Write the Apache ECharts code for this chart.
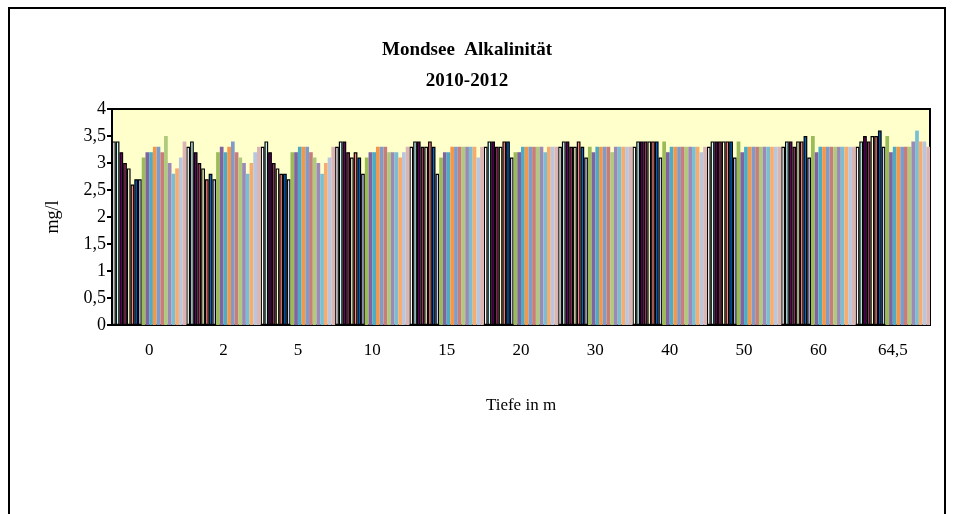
<!DOCTYPE html>
<html>
<head>
<meta charset="utf-8">
<title>Mondsee Alkalinität</title>
<script src="https://cdn.jsdelivr.net/npm/echarts@6/dist/echarts.min.js"></script>
<style>
    html, body { margin: 0; padding: 0; background: #fff; }
    #chart { width: 955px; height: 514px; }
</style>
</head>
<body>
<div id="chart"></div>
<script>
// Tiefenstufen (x-Achse)
const depths = ['0', '2', '5', '10', '15', '20', '30', '40', '50', '60', '64,5'];
const yTicks = [0, 0.5, 1, 1.5, 2, 2.5, 3, 3.5, 4];

// Alkalinität je Tiefe, 20 Messtermine (mg/l)
const t0   = [3.4, 3.4, 3.2, 3.0, 2.9, 2.6, 2.7, 2.7, 3.1, 3.2, 3.2, 3.3, 3.3, 3.2, 3.5, 3.0, 2.8, 2.9, 3.1, 3.4];
const t2   = [3.3, 3.4, 3.2, 3.0, 2.9, 2.7, 2.8, 2.7, 3.2, 3.3, 3.2, 3.3, 3.4, 3.2, 3.1, 3.0, 2.8, 3.0, 3.2, 3.3];
const t5   = [3.3, 3.4, 3.2, 3.0, 2.9, 2.8, 2.8, 2.7, 3.2, 3.2, 3.3, 3.3, 3.3, 3.2, 3.1, 3.0, 2.8, 3.0, 3.1, 3.3];
const t10  = [3.3, 3.4, 3.4, 3.2, 3.1, 3.2, 3.1, 2.8, 3.1, 3.2, 3.2, 3.3, 3.3, 3.3, 3.2, 3.2, 3.2, 3.1, 3.2, 3.3];
const t15  = [3.3, 3.4, 3.4, 3.3, 3.3, 3.4, 3.3, 2.8, 3.1, 3.2, 3.2, 3.3, 3.3, 3.3, 3.3, 3.3, 3.3, 3.3, 3.1, 3.3];
const t20  = [3.3, 3.4, 3.4, 3.3, 3.3, 3.4, 3.4, 3.1, 3.2, 3.2, 3.3, 3.3, 3.3, 3.3, 3.3, 3.3, 3.2, 3.3, 3.3, 3.3];
const t30  = [3.3, 3.4, 3.4, 3.3, 3.3, 3.4, 3.3, 3.1, 3.3, 3.2, 3.3, 3.3, 3.3, 3.3, 3.2, 3.3, 3.3, 3.3, 3.3, 3.3];
const t40  = [3.3, 3.4, 3.4, 3.4, 3.4, 3.4, 3.4, 3.1, 3.4, 3.2, 3.3, 3.3, 3.3, 3.3, 3.3, 3.3, 3.3, 3.3, 3.2, 3.3];
const t50  = [3.3, 3.4, 3.4, 3.4, 3.4, 3.4, 3.4, 3.1, 3.4, 3.2, 3.3, 3.3, 3.3, 3.3, 3.3, 3.3, 3.3, 3.3, 3.3, 3.3];
const t60  = [3.3, 3.4, 3.4, 3.3, 3.4, 3.4, 3.5, 3.1, 3.5, 3.2, 3.3, 3.3, 3.3, 3.3, 3.3, 3.3, 3.3, 3.3, 3.3, 3.3];
const t645 = [3.3, 3.4, 3.5, 3.4, 3.5, 3.5, 3.6, 3.3, 3.5, 3.2, 3.3, 3.3, 3.3, 3.3, 3.3, 3.4, 3.6, 3.4, 3.4, 3.3];

const rows = [t0, t2, t5, t10, t15, t20, t30, t40, t50, t60, t645];

// Farben der Messtermine (die ersten 8 mit schwarzem Rand)
const colors = [
    '#FFFFFF', '#CCFFFF', '#660066', '#993366', '#FFFFCC', '#FF8080', '#0066CC', '#CCCCFF',
    '#9BBB59', '#8064A2', '#4BACC6', '#F79646', '#7E9CCB', '#C97D7B',
    '#AFC97D', '#9C89B8', '#78BFD3', '#F9AB6D', '#B9C6E0', '#DBB5B4'
];
const outlined = 8;

const chart = echarts.init(document.getElementById('chart'));

const series = colors.map(function(c, i) {
    return {
        name: 'Termin ' + (i + 1),
        type: 'bar',
        barGap: '0%',
        barCategoryGap: '0%',
        itemStyle: {
            color: c,
            borderColor: i < outlined ? '#000' : c,
            borderWidth: i < outlined ? 1.2 : 0
        },
        data: rows.map(function(r) { return r[i]; })
    };
});

const serif = 'Liberation Serif, Times New Roman, serif';

const option = {
    animation: false,
    title: {
        text: 'Mondsee  Alkalinität\n2010-2012',
        left: 462,
        top: 30,
        textAlign: 'center',
        textStyle: {
            fontFamily: serif,
            fontWeight: 'bold',
            fontSize: 19,
            lineHeight: 31,
            color: '#000'
        }
    },
    graphic: [{
        type: 'rect',
        shape: { x: 9, y: 8, width: 936, height: 530 },
        style: { fill: 'none', stroke: '#000', lineWidth: 2 },
        silent: true
    }],
    grid: {
        left: 112,
        right: 25,
        top: 109,
        bottom: 189,
        show: true,
        backgroundColor: '#FFFFCC',
        borderColor: '#000',
        borderWidth: 2
    },
    xAxis: {
        type: 'category',
        data: depths,
        name: 'Tiefe in m',
        nameLocation: 'middle',
        nameGap: 72,
        nameTextStyle: { fontFamily: serif, fontSize: 17, color: '#000' },
        axisLine: { lineStyle: { color: '#000', width: 2 } },
        axisTick: { length: 5, lineStyle: { color: '#000', width: 2 } },
        axisLabel: { fontFamily: serif, fontSize: 17, color: '#000', margin: 17 }
    },
    yAxis: {
        type: 'value',
        min: yTicks[0],
        max: yTicks[yTicks.length - 1],
        interval: yTicks[1] - yTicks[0],
        name: 'mg/l',
        nameLocation: 'middle',
        nameRotate: 90,
        nameGap: 50,
        nameTextStyle: { fontFamily: serif, fontSize: 18, color: '#000' },
        splitLine: { show: false },
        axisLine: { show: true, lineStyle: { color: '#000', width: 2 } },
        axisTick: { show: true, length: 5, lineStyle: { color: '#000', width: 2 } },
        axisLabel: {
            fontFamily: serif,
            fontSize: 18,
            color: '#000',
            margin: 6,
            formatter: function(v) { return String(v).replace('.', ','); }
        }
    },
    series: series
};

chart.setOption(option);
</script>
</body>
</html>
